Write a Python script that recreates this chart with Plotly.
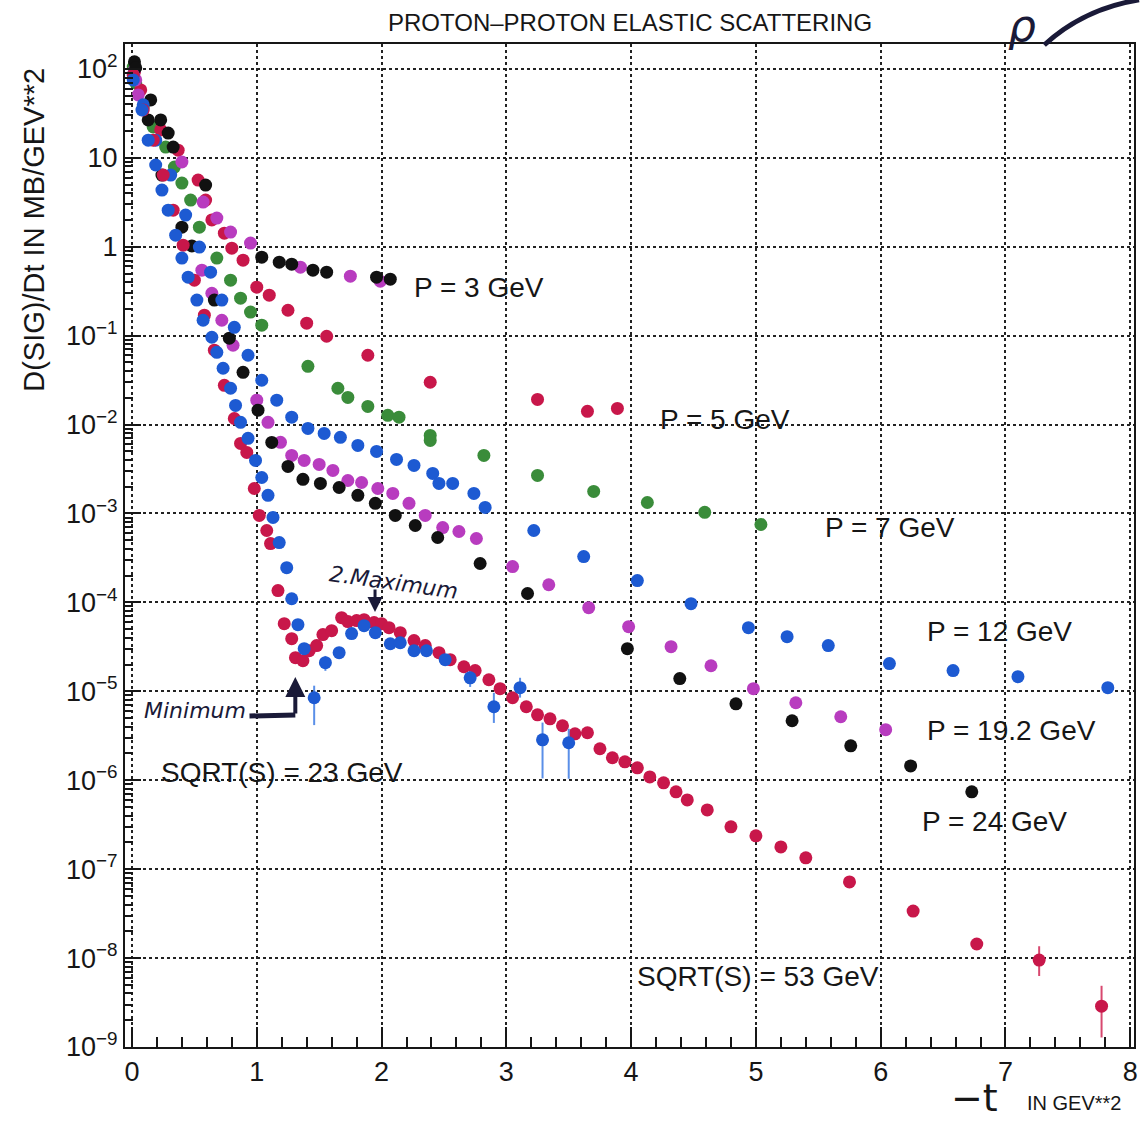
import plotly.graph_objects as go

# ---------------- data (t in GeV^2, dsig/dt in mb/GeV^2) ----------------
t_p3_black = [0.02, 0.15, 0.23, 0.29, 0.33, 0.59, 1.04, 1.18, 1.28, 1.45, 1.56, 1.96, 2.07]
y_p3_black = [120, 44.8, 26.7, 19.0, 13.2, 4.94, 0.764, 0.671, 0.637, 0.545, 0.517, 0.455, 0.432]

t_p3_mag = [0.02, 0.05, 0.40, 0.57, 0.68, 0.79, 0.95, 1.35, 1.75, 1.99]
y_p3_mag = [97, 51, 8.97, 3.18, 2.10, 1.46, 1.10, 0.589, 0.467, 0.410]

t_p5 = [0.02, 0.07, 0.23, 0.37, 0.53, 0.59, 0.64, 0.74, 0.80, 0.89, 1.00, 1.10, 1.25, 1.40,
        1.56, 1.89, 2.39, 3.25, 3.65, 3.89]
y_p5 = [92.5, 58, 20.6, 12.2, 5.62, 3.35, 2.0, 1.42, 0.964, 0.706, 0.351, 0.285, 0.193, 0.138,
        0.0985, 0.0602, 0.0299, 0.0192, 0.0141, 0.0152]

t_p7 = [0.01, 0.03, 0.09, 0.17, 0.27, 0.34, 0.40, 0.47, 0.54, 0.68, 0.79, 0.87, 0.95, 1.04,
        1.41, 1.65, 1.73, 1.89, 2.05, 2.14, 2.39, 2.39, 2.82, 3.25, 3.70, 4.13, 4.59, 5.04]
y_p7 = [105, 69.5, 37.4, 22.2, 13.2, 7.87, 5.2, 3.35, 1.66, 0.745, 0.421, 0.264, 0.184, 0.131,
        0.0452, 0.0256, 0.0202, 0.016, 0.0127, 0.0121, 0.00755, 0.00664, 0.0045, 0.00268,
        0.00177, 0.00133, 0.00103, 0.000752]

t_p12 = [0.01, 0.09, 0.19, 0.31, 0.43, 0.54, 0.63, 0.72, 0.82, 0.93, 1.04, 1.16, 1.28, 1.41,
         1.54, 1.67, 1.81, 1.96, 2.12, 2.26, 2.41, 2.46, 2.57, 2.74, 2.83, 3.22, 3.62, 4.05,
         4.48, 4.94, 5.25, 5.58, 6.07, 6.58, 7.10, 7.82]
y_p12 = [85.5, 39.4, 15.8, 6.40, 2.27, 0.99, 0.517, 0.251, 0.124, 0.0602, 0.0315, 0.0188,
         0.0121, 0.00906, 0.00796, 0.00718, 0.00583, 0.00499, 0.00406, 0.00347, 0.00282,
         0.00218, 0.00218, 0.00168, 0.00117, 0.000644, 0.000328, 0.000176, 9.68e-5, 5.2e-5,
         4.12e-5, 3.27e-5, 2.05e-5, 1.71e-5, 1.46e-5, 1.10e-5]

t_p19 = [0.03, 0.56, 0.64, 0.72, 0.81, 1.00, 1.09, 1.19, 1.28, 1.38, 1.50, 1.61, 1.73, 1.84,
         1.97, 2.09, 2.22, 2.35, 2.49, 2.62, 2.76, 3.05, 3.34, 3.66, 3.98, 4.32, 4.64, 4.98,
         5.32, 5.68, 6.04]
y_p19 = [75.2, 0.545, 0.300, 0.149, 0.078, 0.0188, 0.0106, 0.00631, 0.0045, 0.00395, 0.00356,
         0.00305, 0.00235, 0.00223, 0.00191, 0.00168, 0.0013, 0.00095, 0.000695, 0.000627,
         0.000523, 0.000253, 0.000158, 8.73e-5, 5.33e-5, 3.18e-5, 1.94e-5, 1.07e-5, 7.44e-6,
         5.18e-6, 3.70e-6]

t_p24 = [0.03, 0.13, 0.24, 0.40, 0.48, 0.66, 0.78, 0.89, 1.01, 1.12, 1.25, 1.37, 1.51, 1.66,
         1.81, 1.95, 2.11, 2.27, 2.45, 2.79, 3.17, 3.97, 4.39, 4.84, 5.29, 5.76, 6.24, 6.73]
y_p24 = [103, 26.7, 6.4, 1.66, 1.02, 0.251, 0.0936, 0.0387, 0.0145, 0.0063, 0.00338, 0.00242,
         0.00218, 0.00196, 0.0016, 0.0013, 0.00095, 0.000733, 0.000537, 0.000274, 0.000126,
         3.02e-5, 1.39e-5, 7.24e-6, 4.67e-6, 2.44e-6, 1.45e-6, 7.4e-7]

t_s23 = [0.01, 0.08, 0.13, 0.19, 0.24, 0.29, 0.35, 0.40, 0.45, 0.52, 0.57, 0.64, 0.68, 0.73,
         0.79, 0.83, 0.87, 0.93, 0.99, 1.04, 1.09, 1.13, 1.18, 1.24, 1.28, 1.33, 1.38, 1.46,
         1.55, 1.66, 1.76, 1.86, 1.95, 2.07, 2.15, 2.26, 2.36, 2.51, 2.71, 2.90, 3.11, 3.29, 3.50]
y_s23 = [75, 34.5, 15.8, 8.3, 4.34, 2.58, 1.35, 0.745, 0.455, 0.251, 0.149, 0.096, 0.065, 0.043,
         0.0256, 0.0164, 0.0106, 0.0070, 0.00395, 0.00254, 0.0016, 0.000902, 0.000471,
         0.000246, 0.00011, 5.62e-5, 3.02e-5, 8.47e-6, 2.10e-5, 2.72e-5, 4.46e-5, 5.48e-5,
         4.57e-5, 3.43e-5, 3.52e-5, 2.86e-5, 2.86e-5, 2.27e-5, 1.42e-5, 6.71e-6, 1.10e-5,
         2.85e-6, 2.64e-6]
e_s23_plus = [0] * 27 + [3.1e-6, 4e-6, 4e-6, 4e-6, 5e-6, 4e-6, 4e-6, 4e-6, 4e-6, 4e-6, 3e-6,
                         2.5e-6, 2.9e-6, 3.2e-6, 1.6e-6, 1.15e-6]
e_s23_minus = [0] * 27 + [4.3e-6, 4e-6, 4e-6, 4e-6, 5e-6, 4e-6, 4e-6, 4e-6, 4e-6, 4e-6, 3e-6,
                          3e-6, 2.3e-6, 2.5e-6, 1.8e-6, 1.6e-6]

t_s53 = [0.01, 0.09, 0.17, 0.25, 0.33, 0.41, 0.50, 0.58, 0.66, 0.74, 0.82, 0.87, 0.92, 0.98,
         1.02, 1.08, 1.11, 1.17, 1.22, 1.28, 1.31, 1.37, 1.42, 1.48, 1.53, 1.60, 1.68, 1.73,
         1.80, 1.86, 1.94, 2.00, 2.06, 2.15, 2.26, 2.35, 2.46, 2.55, 2.66, 2.75, 2.86, 2.95,
         3.05, 3.16, 3.25, 3.35, 3.45, 3.55, 3.65, 3.75, 3.85, 3.95, 4.05, 4.15, 4.26, 4.36,
         4.45, 4.61, 4.80, 5.00, 5.20, 5.40, 5.75, 6.26, 6.77, 7.27, 7.77]
y_s53 = [85.5, 34.5, 15.8, 6.4, 2.58, 1.04, 0.421, 0.17, 0.0686, 0.0276, 0.0117, 0.00614,
         0.00486, 0.00191, 0.00095, 0.000644, 0.000459, 0.000136, 5.77e-5, 3.91e-5, 2.39e-5,
         2.21e-5, 2.86e-5, 3.27e-5, 4.35e-5, 4.81e-5, 6.74e-5, 6.08e-5, 6.24e-5, 6.4e-5,
         5.93e-5, 5.77e-5, 5.2e-5, 4.57e-5, 3.72e-5, 3.27e-5, 2.72e-5, 2.27e-5, 1.89e-5,
         1.71e-5, 1.35e-5, 1.07e-5, 8.47e-6, 6.71e-6, 5.44e-6, 4.91e-6, 4.1e-6, 3.33e-6,
         3.42e-6, 2.26e-6, 1.79e-6, 1.61e-6, 1.38e-6, 1.09e-6, 9.35e-7, 7.4e-7, 6.01e-7,
         4.64e-7, 2.99e-7, 2.37e-7, 1.78e-7, 1.34e-7, 7.18e-8, 3.38e-8, 1.44e-8, 9.49e-9,
         2.88e-9]
e_s53_plus = [0] * 64 + [2e-9, 4.1e-9, 2.0e-9]
e_s53_minus = [0] * 64 + [2e-9, 3.2e-9, 1.6e-9]

x_ticks = [0, 1, 2, 3, 4, 5, 6, 7, 8]
y_tick_exp = [2, 1, 0, -1, -2, -3, -4, -5, -6, -7, -8, -9]
y_tick_text = ["10<sup>2</sup>", "10", "1", "10<sup>\u22121</sup>", "10<sup>\u22122</sup>",
               "10<sup>\u22123</sup>", "10<sup>\u22124</sup>", "10<sup>\u22125</sup>",
               "10<sup>\u22126</sup>", "10<sup>\u22127</sup>", "10<sup>\u22128</sup>",
               "10<sup>\u22129</sup>"]

BLACK = "#111111"
MAGENTA = "#b83cbf"
GREEN = "#3a8c3a"
RED = "#c8174a"
BLUE = "#1d5ad2"

fig = go.Figure()


def add(t, y, color, ep=None, em=None, ecol=None):
    kw = {}
    if ep is not None:
        kw["error_y"] = dict(type="data", symmetric=False, array=ep, arrayminus=em,
                             color=ecol, thickness=2, width=0)
    fig.add_trace(go.Scatter(x=t, y=y, mode="markers",
                             marker=dict(size=13, color=color, line=dict(width=0)),
                             showlegend=False, **kw))


add(t_p7, y_p7, GREEN)
add(t_p5, y_p5, RED)
add(t_p3_mag, y_p3_mag, MAGENTA)
add(t_p19, y_p19, MAGENTA)
add(t_p3_black, y_p3_black, BLACK)
add(t_p24, y_p24, BLACK)
add(t_p12, y_p12, BLUE)
add(t_s53, y_s53, RED, e_s53_plus, e_s53_minus, "#d8486f")
add(t_s23, y_s23, BLUE, e_s23_plus, e_s23_minus, "#5a8fe8")

minor_y = [k * 10.0 ** e for e in range(-9, 3) for k in range(2, 10)]

FONT = "Liberation Sans, Arial, sans-serif"
HAND = "DejaVu Sans, sans-serif"

fig.update_layout(
    width=1142, height=1126,
    margin=dict(l=125, r=4, t=44, b=79),
    paper_bgcolor="white", plot_bgcolor="white",
    font=dict(family=FONT, color="#161616"),
    xaxis=dict(range=[-0.056, 8.03], tickmode="array", tickvals=x_ticks,
               ticks="inside", ticklen=20, tickwidth=2, tickcolor="#161616",
               showgrid=True, gridcolor="#222222", griddash="dot", gridwidth=1.5,
               showline=True, linewidth=2, linecolor="#161616", mirror=True,
               zeroline=False, tickfont=dict(size=27, family=FONT),
               minor=dict(dtick=0.2, tick0=0, ticks="inside", ticklen=10, tickwidth=1.5,
                          tickcolor="#161616", showgrid=False)),
    yaxis=dict(type="log", range=[-9, 2.28], tickmode="array",
               tickvals=[10.0 ** e for e in y_tick_exp], ticktext=y_tick_text,
               ticks="inside", ticklen=16, tickwidth=2, tickcolor="#161616",
               showgrid=True, gridcolor="#222222", griddash="dot", gridwidth=1.5,
               showline=True, linewidth=2, linecolor="#161616", mirror=True,
               zeroline=False, tickfont=dict(size=27, family=FONT),
               minor=dict(tickmode="array", tickvals=minor_y, ticks="inside", ticklen=8,
                          tickwidth=1.5, tickcolor="#161616", showgrid=False)),
)


def note(text, x, y, size, family=FONT, color="#161616", angle=0):
    fig.add_annotation(text=text, xref="paper", yref="paper", x=x, y=y, showarrow=False,
                       xanchor="center", yanchor="middle", textangle=angle,
                       font=dict(size=size, family=family, color=color))


# title and axis titles
note("PROTON\u2013PROTON ELASTIC SCATTERING", 0.5005, 1.021, 24)
note("D(SIG)/Dt IN MB/GEV**2", -0.091, 0.815, 29, angle=-90)
note("\u2212t", 0.842, -0.051, 38, family=HAND)
note("IN GEV**2", 0.9408, -0.0558, 20)

# curve labels
labels = [("P = 3 GeV", 0.3504, 0.7577), ("P = 5 GeV", 0.5943, 0.6261),
          ("P = 7 GeV", 0.7581, 0.5184), ("P = 12 GeV", 0.8667, 0.4138),
          ("P = 19.2 GeV", 0.8786, 0.3151), ("P = 24 GeV", 0.8618, 0.2253),
          ("SQRT(S) = 23 GeV", 0.156, 0.2732), ("SQRT(S) = 53 GeV", 0.6269, 0.0698)]
for txt, px, py in labels:
    note(txt, px, py, 28)

# handwritten notes
INK = "#1a1a38"
note("<i>Minimum</i>", 0.069, 0.335, 22, family=HAND, color=INK)
fig.add_shape(type="line", xref="paper", yref="paper", x0=0.1234, y0=0.330, x1=0.1688,
              y1=0.331, line=dict(color=INK, width=5))
fig.add_annotation(text="", xref="paper", yref="paper", x=0.1688, y=0.369, ax=0, ay=38,
                   showarrow=True, arrowhead=2, arrowsize=1, arrowwidth=4, arrowcolor=INK)
note("<i>2.Maximum</i>", 0.2665, 0.4636, 22, family=HAND, color=INK, angle=8)
fig.add_annotation(text="", xref="paper", yref="paper", x=0.2478, y=0.4337, ax=0, ay=-24,
                   showarrow=True, arrowhead=2, arrowsize=1, arrowwidth=3, arrowcolor=INK)
note("<i>\u03c1</i>", 0.889, 1.018, 44, family=HAND, color=INK)
fig.add_shape(type="path", xref="paper", yref="paper",
              path="M 0.911 0.999 Q 0.95 1.035 1.005 1.044", line=dict(color=INK, width=5))

fig.write_html("out.html")
